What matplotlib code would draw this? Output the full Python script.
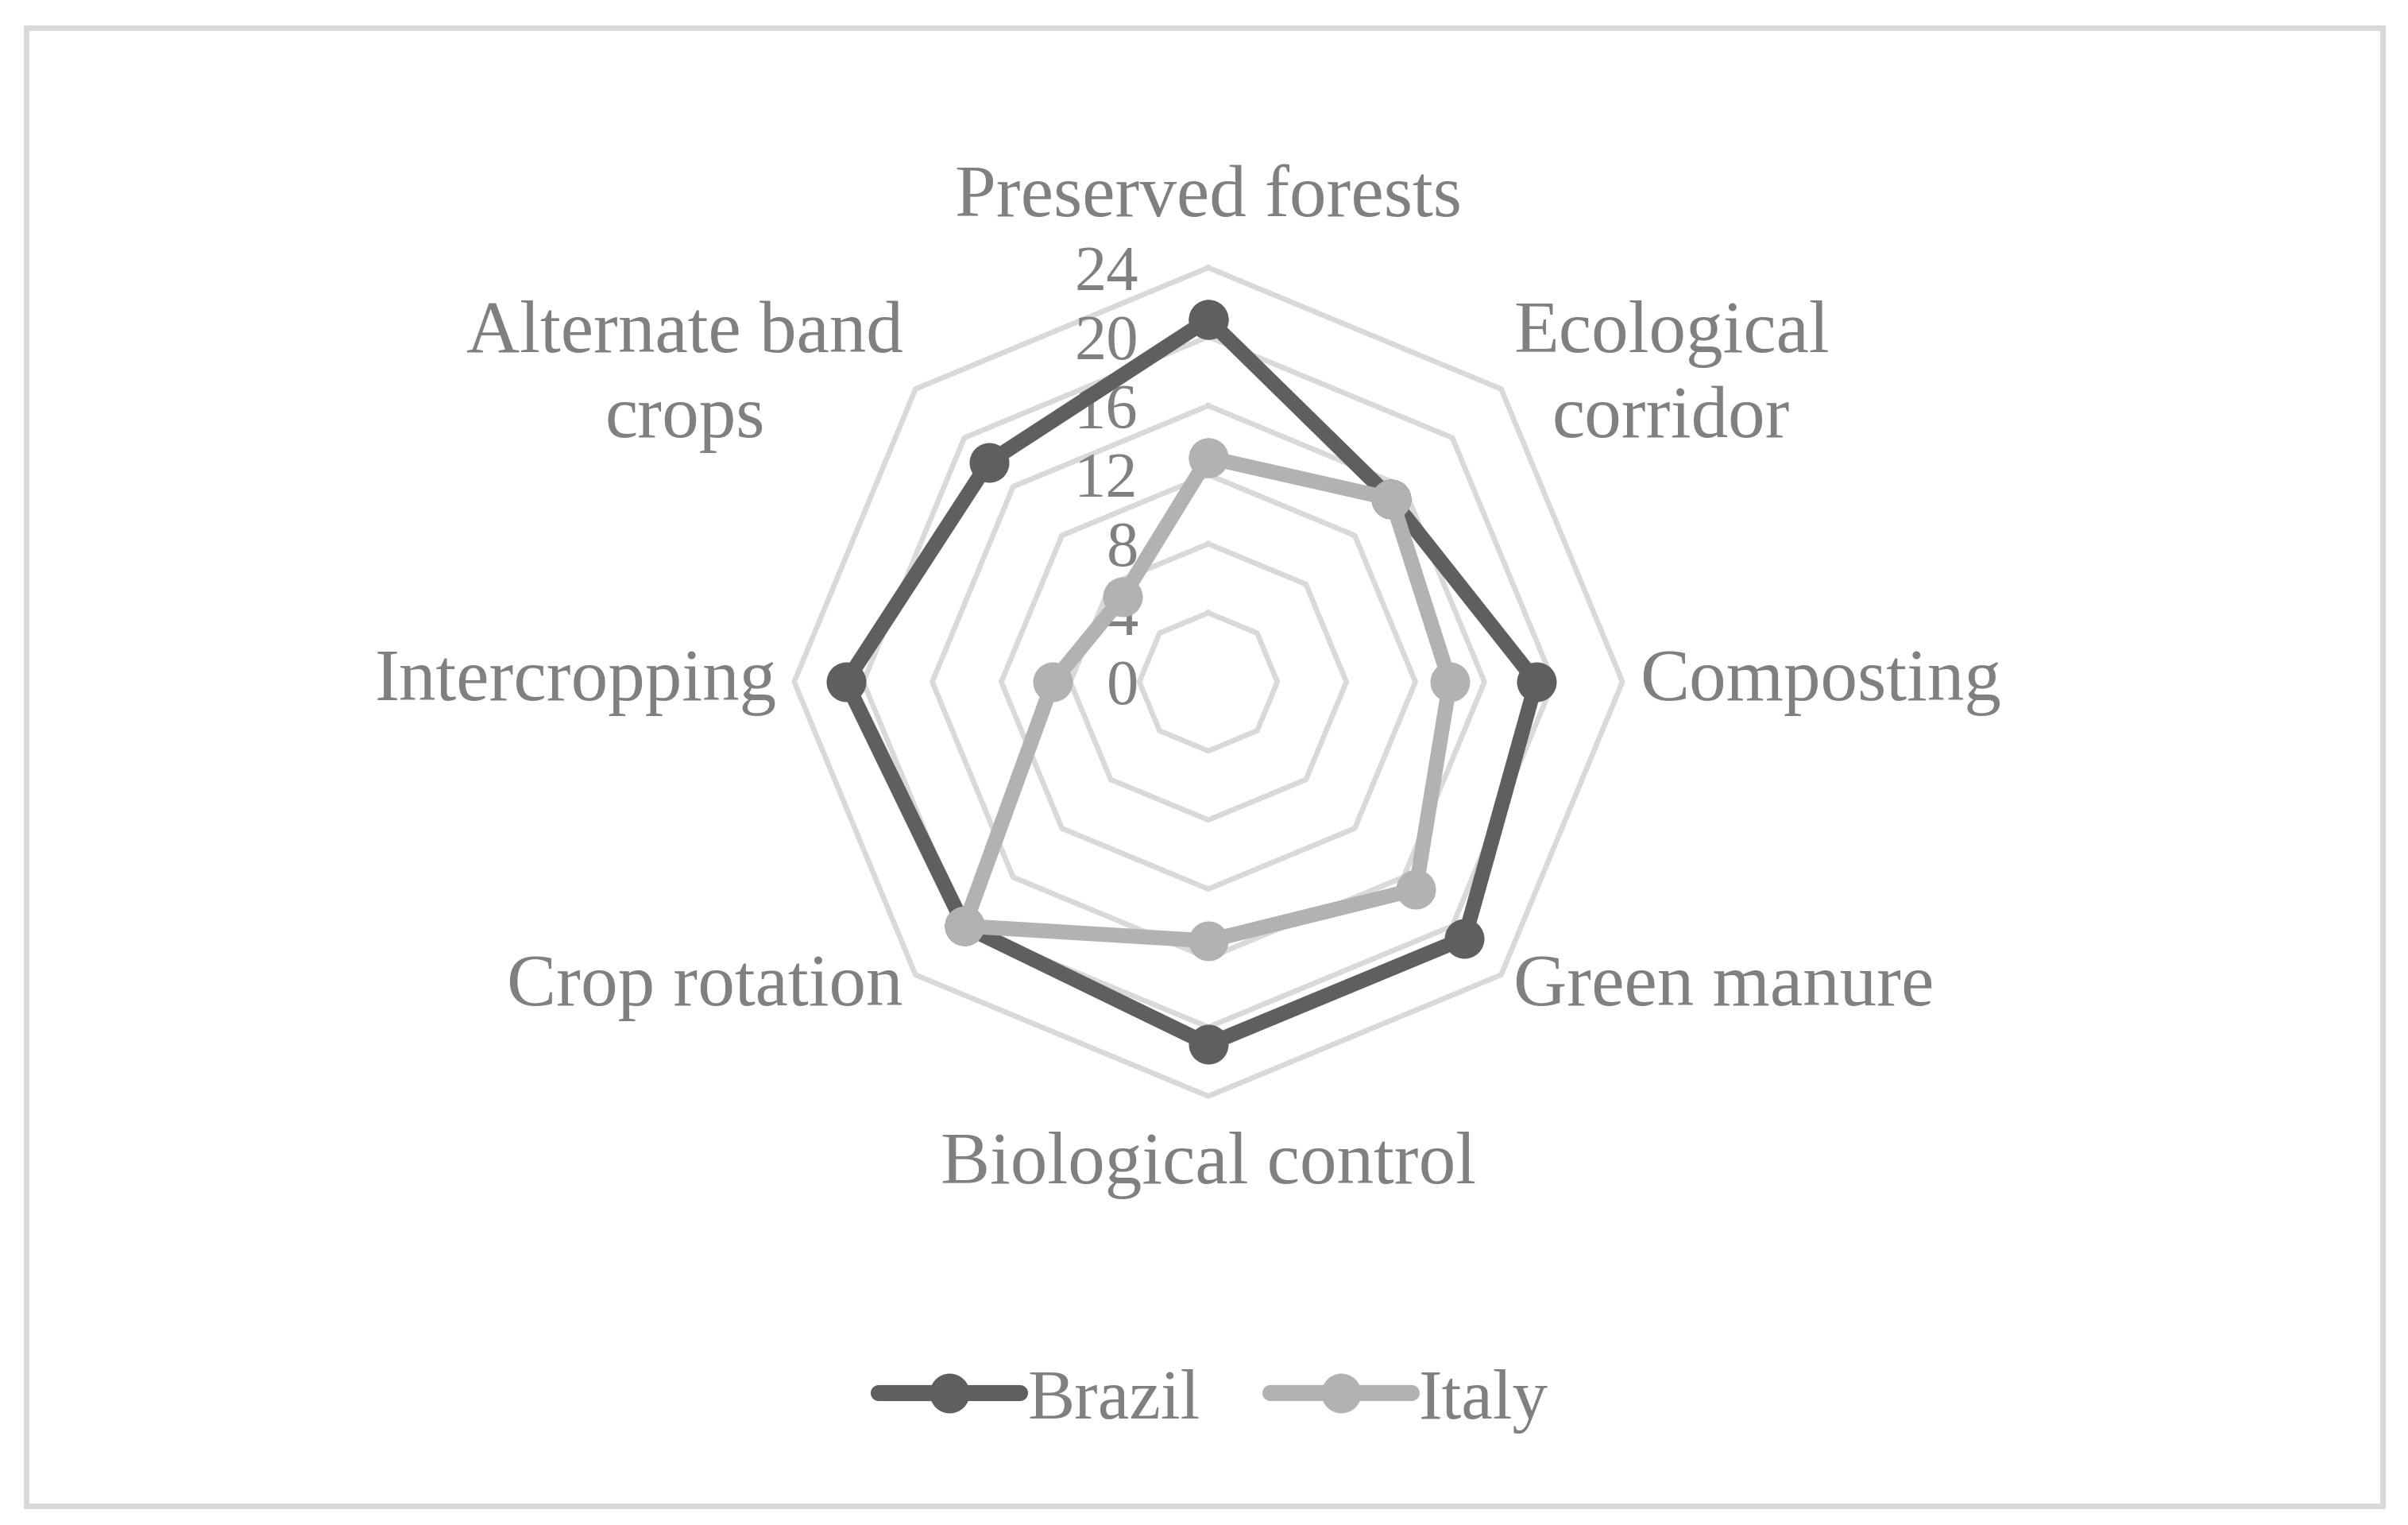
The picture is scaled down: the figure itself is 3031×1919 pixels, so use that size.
import numpy as np
import matplotlib
matplotlib.use('Agg')
import matplotlib.pyplot as plt
from matplotlib.patches import Rectangle
from matplotlib.transforms import offset_copy

plt.rcParams['font.family'] = ['Liberation Serif', 'DejaVu Serif']

# data
categories = ['Preserved forests', 'Ecological\ncorridor', 'Composting', 'Green manure',
              'Biological control', 'Crop rotation', 'Intercropping', 'Alternate band\ncrops']
brazil = [21, 15, 19, 21, 21, 20, 21, 18]
italy = [13, 15, 14, 17, 15, 20, 9, 7]
ticks = [0, 4, 8, 12, 16, 20, 24]

col_brazil = '#5f5f5f'
col_italy = '#b2b2b2'
col_grid = '#d9d9d9'
col_text = '#808080'

fig = plt.figure(figsize=(30.31, 19.19), dpi=100)
ax = fig.add_axes([0.2868, 0.2133, 0.43, 0.6791], projection='polar')
ax.set_theta_zero_location('N')
ax.set_theta_direction(-1)
ax.set_ylim(0, 30)
ax.grid(False)
ax.spines['polar'].set_visible(False)
ax.set_xticks([])
ax.set_yticks([])
ax.patch.set_alpha(0)

n = len(categories)
ang = np.linspace(0, 2 * np.pi, n, endpoint=False)
ang_c = np.append(ang, ang[0])

# octagon grid
for t in ticks[1:]:
    ax.plot(ang_c, [t] * (n + 1), color=col_grid, lw=4.8, zorder=1)

# tick labels left of the vertical axis
trans = offset_copy(ax.transData, fig=fig, x=-88, y=0, units='dots')
for t in ticks:
    ax.text(0, t, str(t), transform=trans, ha='right', va='center_baseline',
            fontsize=58, color=col_text)

# series
ax.plot(ang_c, brazil + brazil[:1], color=col_brazil, lw=13.5, marker='o', ms=35,
        solid_joinstyle='round', solid_capstyle='round', label='Brazil', zorder=3)
ax.plot(ang_c, italy + italy[:1], color=col_italy, lw=13.5, marker='o', ms=35,
        solid_joinstyle='round', solid_capstyle='round', label='Italy', zorder=4)

# category labels
for a, lab in zip(ang, categories):
    s = np.sin(a)
    if abs(s) < 1e-6:
        ax.text(a, 28, lab, ha='center', va='center', fontsize=67, color=col_text)
    else:
        ax.text(a, 25, lab, ha='left' if s > 0 else 'right', va='center',
                multialignment='center', linespacing=1.33, fontsize=67, color=col_text)

leg = fig.legend(loc='center', bbox_to_anchor=(0.504, 0.0813), ncol=2, frameon=False,
                 fontsize=64, labelcolor=col_text, handlelength=2.0, handletextpad=0.1,
                 columnspacing=1.0)
for h in leg.legend_handles:
    h.set_linewidth(14.5)

fig.patches.append(Rectangle((32.5 / 3031, 1 - 1895 / 1919), (2999 - 32.5) / 3031,
                             (1895 - 35.5) / 1919, transform=fig.transFigure,
                             fill=False, edgecolor=col_grid, lw=5))

fig.savefig('out.png', dpi=100, facecolor='white')
